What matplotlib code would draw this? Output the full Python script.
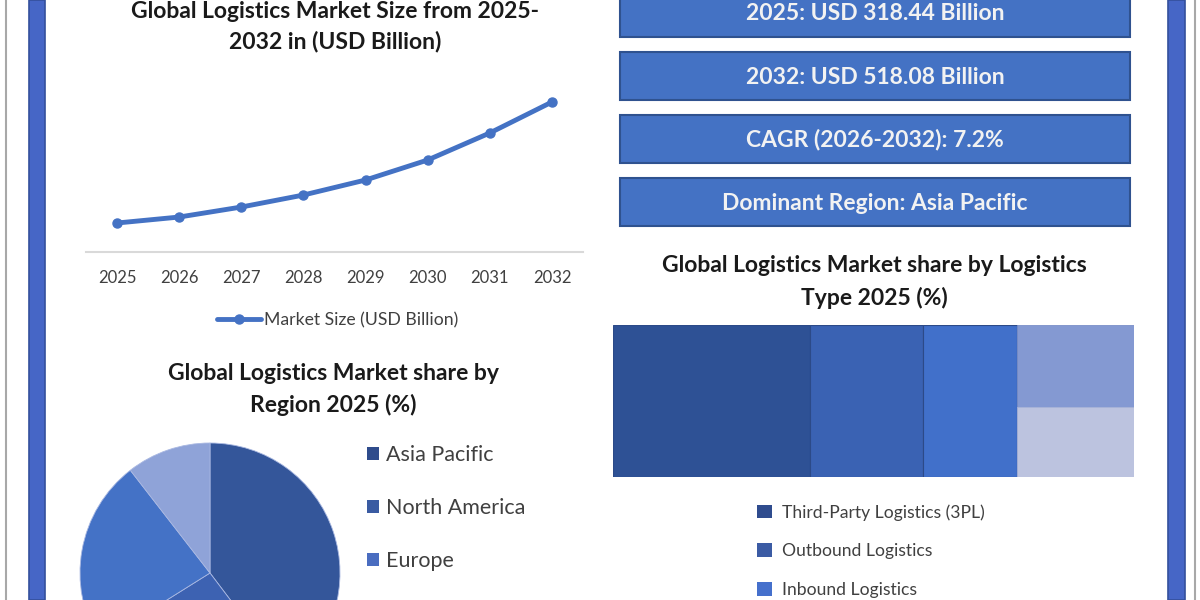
"""
Global Logistics Market infographic: line chart of market size, KPI boxes,
region pie chart and logistics-type treemap.
"""

import numpy as np
import matplotlib
matplotlib.use("Agg")
import matplotlib.pyplot as plt
from matplotlib.patches import Rectangle

plt.rcParams['font.family'] = ['Lato', 'DejaVu Sans']

# ======== Data ========

YEARS = ["2025", "2026", "2027", "2028", "2029", "2030", "2031", "2032"]
MARKET_SIZE = [318.44, 328.3, 344.8, 364.6, 389.4, 422.4, 467.0, 518.08]
LINE_LABEL = "Market Size (USD Billion)"

KPI_TEXTS = [
    "2025: USD 318.44 Billion",
    "2032: USD 518.08 Billion",
    "CAGR (2026-2032): 7.2%",
    "Dominant Region: Asia Pacific",
]

# only the first three legend entries are visible in the picture
REGION_LABELS = ["Asia Pacific", "North America", "Europe"]
REGION_SHARE = [39.7, 26.4, 23.4, 10.5]   # last slice = remaining regions
REGION_COLORS = ["#34569A", "#3D62B2", "#4472C6", "#8FA3D8"]
REGION_LEGEND_COLORS = ["#2F4C8C", "#3A5BA2", "#4A6DC0"]

TYPE_LABELS = ["Third-Party Logistics (3PL)", "Outbound Logistics", "Inbound Logistics"]
TYPE_SHARE = [37.8, 21.7, 18.0, 12.1, 10.4]
TYPE_COLORS = ["#2E5195", "#3A62B3", "#4170CA", "#8499D2", "#BCC3DF"]

W, H = 1200, 600
TITLE_KW = dict(ha="center", va="center", fontsize=16.5, fontweight="bold", color="#1A1A1A")


def px_axes(fig, x0, y0, x1, y1, **kw):
    """Add axes given pixel box (top-left origin)."""
    return fig.add_axes([x0 / W, 1 - y1 / H, (x1 - x0) / W, (y1 - y0) / H], **kw)


def draw_frame(bg):
    # thin gray outer lines and thick blue side bars
    bg.axvline(6, color="#A8A8A8", lw=1.5)
    bg.axvline(1195, color="#A8A8A8", lw=1.5)
    bg.add_patch(Rectangle((29, 0), 16, H, fc="#4666C6", ec="#34509C", lw=1.2))
    bg.add_patch(Rectangle((1168, 0), 17, H, fc="#4666C6", ec="#34509C", lw=1.2))


def draw_line_chart(fig, bg):
    ax = px_axes(fig, 86, 70, 583, 252)
    x = np.arange(len(YEARS))
    ax.plot(x, MARKET_SIZE, color="#4472C4", lw=3.5, marker="o", ms=6.5,
            label=LINE_LABEL, solid_capstyle="round")
    ax.set_xlim(-0.5, len(YEARS) - 0.5)
    ax.set_ylim(270.6, 570.9)
    for s in ["top", "right", "left"]:
        ax.spines[s].set_visible(False)
    ax.spines["bottom"].set_color("#D9D9D9")
    ax.spines["bottom"].set_linewidth(1.5)
    ax.set_yticks([])
    ax.set_xticks(x, YEARS)
    ax.tick_params(axis="x", length=0, pad=13, labelsize=12, labelcolor="#404040")
    ax.patch.set_alpha(0)
    ax.legend(loc="center", bbox_to_anchor=(338 / W, 1 - 320 / H),
              bbox_transform=fig.transFigure, frameon=False, fontsize=12.7,
              borderpad=0, borderaxespad=0,
              handlelength=2.5, handletextpad=0.17, labelcolor="#404040")

    bg.text(335, 12, "Global Logistics Market Size from 2025-", **TITLE_KW)
    bg.text(335, 41, "2032 in (USD Billion)", **TITLE_KW)


def draw_kpis(bg):
    top, pitch, h = -11, 63, 48
    for i, txt in enumerate(KPI_TEXTS):
        y = top + i * pitch
        bg.add_patch(Rectangle((620, y), 510, h, fc="#4472C4", ec="#2F528F", lw=1.5))
        bg.text(875, y + h / 2 + 1, txt, ha="center", va="center", fontsize=16.5,
                fontweight="bold", color="#F2F2F2")


def draw_pie(fig, bg):
    ax = px_axes(fig, 80, 443, 340, 703)
    ax.pie(REGION_SHARE, colors=REGION_COLORS, startangle=90, counterclock=False,
           radius=1, wedgeprops=dict(edgecolor="#A9B8E2", linewidth=0.6))
    ax.set_xlim(-1, 1)
    ax.set_ylim(-1, 1)
    ax.set_aspect("equal")

    handles = [Rectangle((0, 0), 1, 1, fc=c) for c in REGION_LEGEND_COLORS]
    fig.legend(handles, REGION_LABELS, loc="upper left",
               bbox_to_anchor=(367 / W, 1 - 445 / H), frameon=False,
               fontsize=15.5, borderpad=0, borderaxespad=0,
               handlelength=0.55, handleheight=0.55,
               handletextpad=0.35, labelspacing=1.54, labelcolor="#404040")

    bg.text(333, 373, "Global Logistics Market share by", **TITLE_KW)
    bg.text(333, 405, "Region 2025 (%)", **TITLE_KW)


def draw_treemap(fig, bg):
    ax = px_axes(fig, 613, 325, 1134, 477)
    ax.set_xlim(0, 1)
    ax.set_ylim(0, 1)
    ax.axis("off")

    total = sum(TYPE_SHARE)
    cx = 0.0
    for v, c in zip(TYPE_SHARE[:3], TYPE_COLORS[:3]):
        w = v / total
        ax.add_patch(Rectangle((cx, 0), w, 1, fc=c, ec="#2C4A88", lw=0.8))
        cx += w
    # last column stacks the two smallest shares
    rest = TYPE_SHARE[3] + TYPE_SHARE[4]
    w = rest / total
    h_top = TYPE_SHARE[3] / rest
    ax.add_patch(Rectangle((cx, 1 - h_top), w, h_top, fc=TYPE_COLORS[3], ec="#7A8FC8", lw=0.6))
    ax.add_patch(Rectangle((cx, 0), w, 1 - h_top, fc=TYPE_COLORS[4], ec="#A8B3D8", lw=0.6))

    handles = [Rectangle((0, 0), 1, 1, fc=c) for c in ["#2F4C8E", "#3B5BA4", "#4570CC"]]
    fig.legend(handles, TYPE_LABELS, loc="upper left",
               bbox_to_anchor=(757 / W, 1 - 504 / H), frameon=False,
               fontsize=12.6, borderpad=0, borderaxespad=0,
               handlelength=0.85, handleheight=0.85,
               handletextpad=0.57, labelspacing=1.3, labelcolor="#404040")

    bg.text(874, 265, "Global Logistics Market share by Logistics", **TITLE_KW)
    bg.text(874, 298, "Type 2025 (%)", **TITLE_KW)


def main():
    fig = plt.figure(figsize=(12, 6), dpi=100)
    fig.patch.set_facecolor("white")

    bg = fig.add_axes([0, 0, 1, 1], zorder=-1)
    bg.set_xlim(0, W)
    bg.set_ylim(H, 0)
    bg.axis("off")

    draw_frame(bg)
    draw_line_chart(fig, bg)
    draw_kpis(bg)
    draw_pie(fig, bg)
    draw_treemap(fig, bg)

    fig.savefig("out.png", dpi=100)


if __name__ == "__main__":
    main()
